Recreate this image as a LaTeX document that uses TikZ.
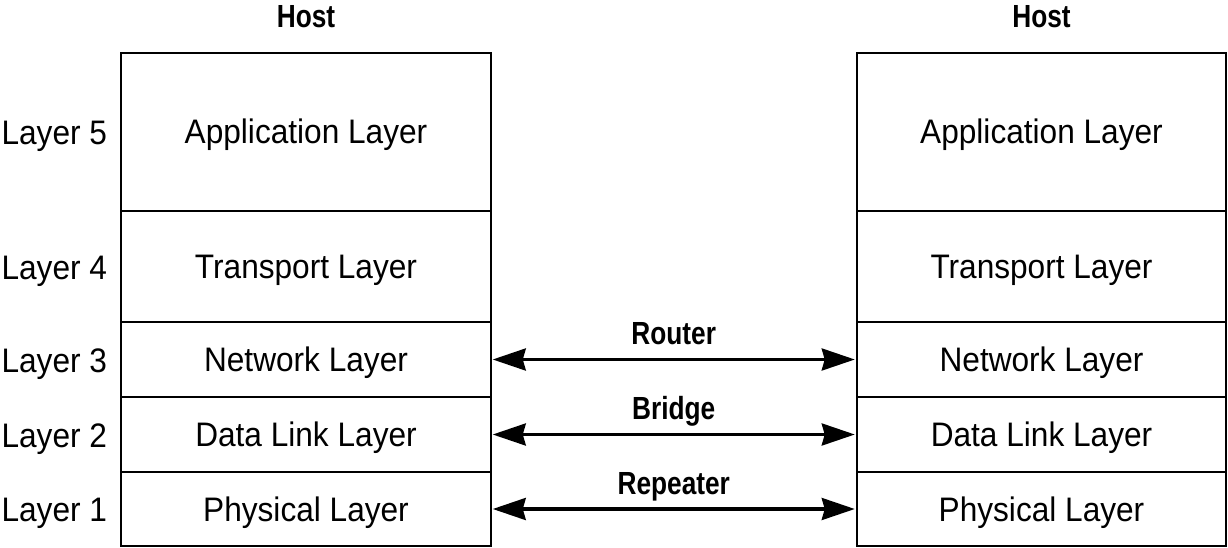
\documentclass[tikz,border=0pt]{standalone}
\usepackage{fontspec}
\setmainfont{Liberation Sans}[FakeStretch=0.93]
\newfontfamily\labfont{Liberation Sans}[FakeStretch=0.82]
\usetikzlibrary{arrows.meta}
\begin{document}
\begin{tikzpicture}[x=1pt,y=-1pt,
  layerbox/.style={draw, line width=2pt, minimum width=369.5pt, inner sep=0pt, outer sep=0pt,
    anchor=north, font=\fontsize{34}{40}\selectfont, text height=24pt, text depth=0pt},
  layerlab/.style={anchor=base east, inner sep=0pt, font=\fontsize{34}{40}\selectfont},
  hostlab/.style={anchor=base, inner sep=0pt, font=\labfont\bfseries\fontsize{32}{36}\selectfont},
  conn/.style={line width=3.2pt, {Stealth[length=33pt,width=22pt,inset=3pt]}-{Stealth[length=33pt,width=22pt,inset=3pt]}},
  devlab/.style={midway, anchor=base, yshift=15pt, inner sep=0pt, font=\labfont\bfseries\fontsize{32}{36}\selectfont}]
\useasboundingbox (0,0) rectangle (1228,548);
% left host
\node[layerbox, minimum height=158pt] (LA) at (306,53) {Application Layer};
\node[layerbox, minimum height=111pt] (LT) at (LA.south) {Transport Layer};
\node[layerbox, minimum height=75pt] (LN) at (LT.south) {Network Layer};
\node[layerbox, minimum height=75pt] (LD) at (LN.south) {Data Link Layer};
\node[layerbox, minimum height=74pt] (LP) at (LD.south) {Physical Layer};
% right host
\node[layerbox, minimum height=158pt] (RA) at (1041.5,53) {Application Layer};
\node[layerbox, minimum height=111pt] (RT) at (RA.south) {Transport Layer};
\node[layerbox, minimum height=75pt] (RN) at (RT.south) {Network Layer};
\node[layerbox, minimum height=75pt] (RD) at (RN.south) {Data Link Layer};
\node[layerbox, minimum height=74pt] (RP) at (RD.south) {Physical Layer};
% host titles
\node[hostlab] (H1) at ([yshift=25pt]LA.north) {Host};
\node[hostlab] (H2) at ([yshift=25pt]RA.north) {Host};
% layer numbers
\node[layerlab] (N5) at ([xshift=-14pt,yshift=-12.5pt]LA.west) {Layer 5};
\node[layerlab] (N4) at ([xshift=-14pt,yshift=-12.5pt]LT.west) {Layer 4};
\node[layerlab] (N3) at ([xshift=-14pt,yshift=-12.5pt]LN.west) {Layer 3};
\node[layerlab] (N2) at ([xshift=-14pt,yshift=-12.5pt]LD.west) {Layer 2};
\node[layerlab] (N1) at ([xshift=-14pt,yshift=-12.5pt]LP.west) {Layer 1};
% connectors
\draw[conn] ([xshift=2pt]LN.east) -- node[devlab] (DR) {Router} ([xshift=-2pt]RN.west);
\draw[conn] ([xshift=2pt]LD.east) -- node[devlab] (DB) {Bridge} ([xshift=-2pt]RD.west);
\draw[conn] ([xshift=2pt]LP.east) -- node[devlab] (DP) {Repeater} ([xshift=-2pt]RP.west);
\end{tikzpicture}
\end{document}
